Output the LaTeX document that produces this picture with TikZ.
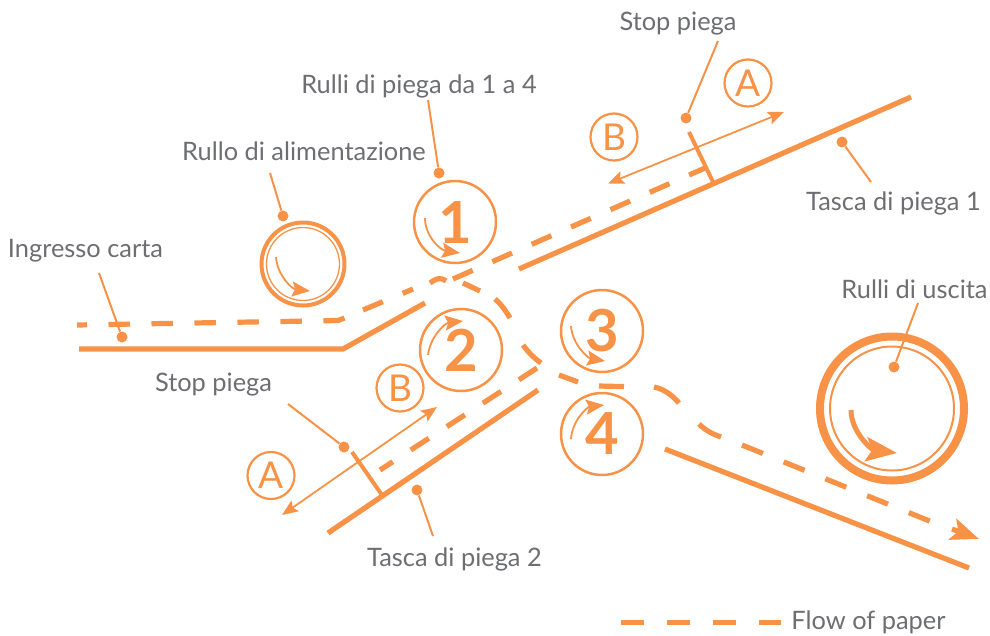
\documentclass[tikz,border=0pt]{standalone}
\usepackage{fontspec}
\setmainfont{Lato}
\usetikzlibrary{arrows.meta}
\definecolor{foldorange}{HTML}{F79246}
\definecolor{labelgray}{HTML}{6D6E71}
\tikzset{
  caption/.style={text=labelgray,inner sep=0pt,font=\fontsize{25.4}{26}\selectfont},
  roller/.style={circle,draw=foldorange,line width=2.5pt,minimum size=82pt,inner sep=0pt,text=foldorange,font=\fontsize{58}{58}\selectfont\bfseries},
  tag/.style={circle,draw=foldorange,line width=2.2pt,minimum size=47pt,inner sep=0pt,text=foldorange,font=\fontsize{37}{37}\selectfont},
  dot/.style={circle,fill=foldorange,minimum size=11pt,inner sep=0pt},
  leader/.style={draw=foldorange,line width=2pt},
  sheet/.style={draw=foldorange,line width=5.2pt},
  flow/.style={draw=foldorange,line width=5.2pt,dash pattern=on 21.5pt off 21.5pt},
  turn/.style={draw=foldorange,line width=1.8pt,-{Stealth[length=18pt,width=15pt,inset=3pt]}},
  travel/.style={draw=foldorange,line width=1.8pt,{Stealth[length=16pt,width=13pt,inset=3pt]}-{Stealth[length=16pt,width=13pt,inset=3pt]}}
}
\begin{document}
\begin{tikzpicture}[x=1pt,y=-1pt]
  \useasboundingbox (0,0) rectangle (990,635);
  % Paper guides
  \draw[sheet](79,349)--(343,349)--(425,303);
  \draw[sheet](519,269)--(911,97);
  \draw[sheet](538,390)--(328,533);
  \draw[sheet](665,449)--(969,568);
  % Paper stops
  \draw[foldorange,line width=4pt](689,132)--(713,182);
  \draw[foldorange,line width=4pt](352,452)--(382,495);
  % Flow of paper
  \draw[flow,dash phase=11.5pt](77,325)--(338,320.5)--(347,317);
  \draw[flow](363,310)--(413,289);
  \draw[sheet](430,283) .. controls (437,278) and (440,277) .. (446,281);
  \draw[sheet](463,283)--(480,291);
  \draw[sheet](495,299) .. controls (501,304) and (506,311) .. (510,318);
  \draw[sheet](523,345) .. controls (528,352) and (534,358) .. (541,363);
  \draw[sheet](559,375)--(578,382);
  \draw[sheet](599,386)--(624,386.6);
  \draw[sheet](654,387) .. controls (664,389) and (672,395) .. (679,403);
  \draw[sheet](699,424) .. controls (705,430) and (712,434) .. (721,437);
  \draw[flow,dash pattern=on 22.5pt off 22.5pt](742,445)--(932,522);
  \draw[flow](453,279)--(705,168);
  \draw[flow](537,368)--(380,470);
  \draw[sheet,-{Stealth[length=28pt,width=22pt,inset=6pt]}](952,529)--(979,539);
  % Rollers
  \node[roller](r1) at (455,222){1};
  \node[roller](r2) at (461,350){2};
  \node[roller](r3) at (602,331){3};
  \node[roller](r4) at (602,434){4};
  \node[circle,draw=foldorange,line width=4pt,minimum size=83pt,inner sep=0pt](feed) at (303,264){};
  \node[circle,draw=foldorange,line width=1.3pt,minimum size=73pt,inner sep=0pt](feedin) at (feed){};
  \node[circle,draw=foldorange,line width=8pt,minimum size=144pt,inner sep=0pt](exit) at (892,408.5){};
  \node[circle,draw=foldorange,line width=2pt,minimum size=124pt,inner sep=0pt](exitin) at (exit){};
  % Turning directions
  \draw[turn](425,218) .. controls (425,236) and (440,250) .. (460,253);
  \draw[turn](428,355) .. controls (430,337) and (445,323) .. (463,321);
  \draw[turn](571,326) .. controls (572,343) and (587,358) .. (605,361);
  \draw[turn](571,439) .. controls (572,421) and (587,407) .. (604,405);
  \draw[turn](276,257) .. controls (277,275) and (292,289) .. (310,291);
  \draw[foldorange,line width=5pt,-{Stealth[length=31pt,width=24pt,inset=6pt]}](851,410) .. controls (851,432) and (872,450) .. (897,453);
  % Fold travel
  \node[tag](tagAtop) at (748,83){A};
  \node[tag](tagBtop) at (614,137){B};
  \node[tag](tagAbot) at (271,475.5){A};
  \node[tag](tagBbot) at (400,388){B};
  \draw[travel](608,183.5)--(784,112);
  \draw[travel](282,515)--(437,407);
  % Labels
  \node[caption](stoptop) at (678,24){Stop piega};
  \node[caption](rulli) at (419,86){Rulli di piega da 1 a 4};
  \node[caption](alim) at (304,151){Rullo di alimentazione};
  \node[caption](ingresso) at (85.5,251){Ingresso carta};
  \node[caption](tasca1) at (893.5,203){Tasca di piega 1};
  \node[caption](uscita) at (914.5,289){Rulli di uscita};
  \node[caption](stopbot) at (213.5,385){Stop piega};
  \node[caption](tasca2) at (454.5,559){Tasca di piega 2};
  \node[caption](legend) at (868.5,622){Flow of paper};
  % Leaders
  \node[dot](dstoptop) at (686,118){};
  \node[dot](drulli) at (439,173){};
  \node[dot](dalim) at (283,216){};
  \node[dot](dingresso) at (122,337){};
  \node[dot](dtasca1) at (842,142){};
  \node[dot](duscita) at (894,367){};
  \node[dot](dstopbot) at (344,447){};
  \node[dot](dtasca2) at (417,490){};
  \coordinate(fstoptop) at (718,41);
  \coordinate(frulli) at (428,100);
  \coordinate(falim) at (270,173);
  \coordinate(fingresso) at (99,273);
  \coordinate(ftasca1) at (871,182);
  \coordinate(fuscita) at (918,303);
  \coordinate(fstopbot) at (288,404);
  \coordinate(ftasca2) at (433,536);
  \draw[leader](fstoptop)--(dstoptop);
  \draw[leader](frulli)--(drulli);
  \draw[leader](falim)--(dalim);
  \draw[leader](fingresso)--(dingresso);
  \draw[leader](ftasca1)--(dtasca1);
  \draw[leader](fuscita)--(duscita);
  \draw[leader](fstopbot)--(dstopbot);
  \draw[leader](ftasca2)--(dtasca2);
  % Legend
  \coordinate(la) at (621,622.7);
  \coordinate(lb) at (781,622.7);
  \draw[foldorange,line width=5pt,dash pattern=on 23pt off 23pt](la)--(lb);
\end{tikzpicture}
\end{document}
